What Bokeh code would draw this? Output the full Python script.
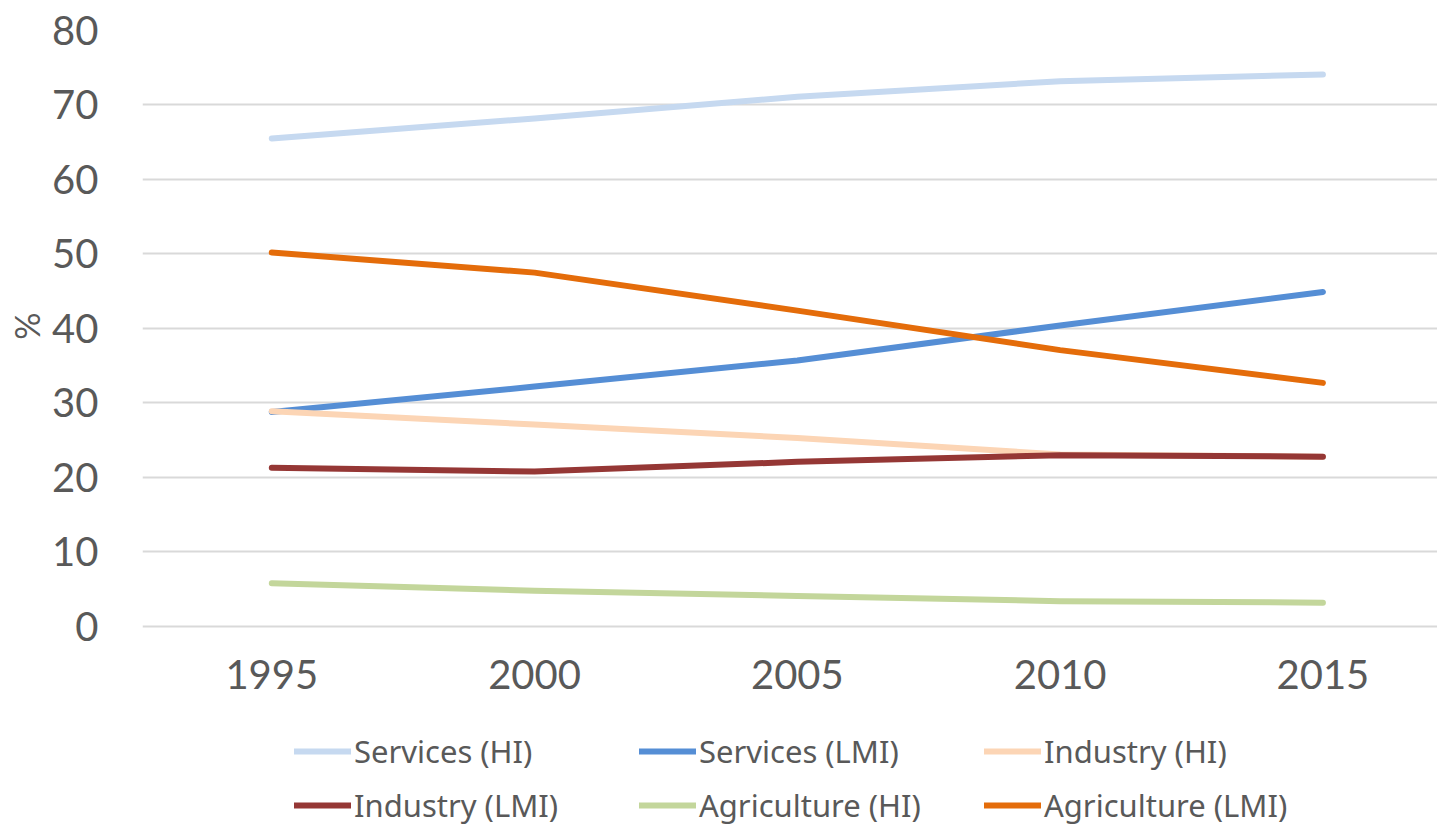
from bokeh.plotting import figure
from bokeh.models import Legend, LegendItem, FixedTicker, Range1d, Title
from bokeh.embed import file_html
from bokeh.resources import INLINE

# Share of employment by sector, high-income (HI) vs low/middle-income (LMI)
years = [1995, 2000, 2005, 2010, 2015]
services_hi = [65.5, 68.2, 71.1, 73.2, 74.1]
services_lmi = [28.8, 32.2, 35.7, 40.4, 44.9]
industry_hi = [28.9, 27.1, 25.3, 23.1, 22.8]
industry_lmi = [21.3, 20.8, 22.1, 23.0, 22.8]
agriculture_hi = [5.8, 4.8, 4.1, 3.4, 3.2]
agriculture_lmi = [50.2, 47.5, 42.4, 37.1, 32.7]
y_ticks = [0, 10, 20, 30, 40, 50, 60, 70, 80]

series = [
    ("Services (HI)", services_hi, "#C6D9F0"),
    ("Services (LMI)", services_lmi, "#558ED5"),
    ("Industry (HI)", industry_hi, "#FCD5B5"),
    ("Industry (LMI)", industry_lmi, "#953735"),
    ("Agriculture (HI)", agriculture_hi, "#C3D69B"),
    ("Agriculture (LMI)", agriculture_lmi, "#E46C0A"),
]

TEXT = "#595959"
GRID = "#D9D9D9"

# The frame runs to the bottom of the canvas; the space under 0 holds the
# year labels and the legend.
p = figure(width=1437, height=827, output_backend="svg", toolbar_location=None,
           x_range=Range1d(1992.54, 2017.18), y_range=Range1d(-26.98, 80),
           min_border_left=135, min_border_right=0, min_border_top=30,
           min_border_bottom=0, outline_line_color=None)

renderers = []
for name, vals, col in series:
    r = p.line(years, vals, line_color=col, line_width=6, line_cap="round", line_join="round")
    renderers.append((name, r))

p.xgrid.grid_line_color = None
p.ygrid.grid_line_color = GRID
p.ygrid.grid_line_width = 2

p.xaxis.ticker = FixedTicker(ticks=years)
p.yaxis.ticker = FixedTicker(ticks=y_ticks)
p.xaxis.fixed_location = 0
for ax in (p.xaxis[0], p.yaxis[0]):
    ax.axis_line_color = None
    ax.major_tick_line_color = None
    ax.minor_tick_line_color = None
    ax.major_label_text_color = TEXT
    ax.major_label_text_font = "Lato"
    ax.major_label_text_font_size = "40px"
p.xaxis.major_label_standoff = 28
p.yaxis.major_label_standoff = 38

# "%" sits beside the 0-80 band of the value axis
p.add_layout(Title(text="%", align="right", offset=282, text_font="Lato",
                   text_font_style="normal", text_font_size="34px",
                   text_color=TEXT, standoff=6), "left")

rows = [renderers[:3], renderers[3:]]
row_offsets = [55, 1]
for items, yoff in zip(rows, row_offsets):
    lg = Legend(items=[LegendItem(label=n, renderers=[r]) for n, r in items],
                orientation="horizontal", location=(152, yoff),
                glyph_width=57, glyph_height=20, label_standoff=3,
                label_width=285, label_height=40, spacing=0,
                label_text_font="Noto Sans", label_text_font_size="31px",
                label_text_color=TEXT, border_line_color=None,
                background_fill_alpha=0, padding=0, margin=0)
    p.add_layout(lg, "center")

open("out.html", "w").write(file_html(p, INLINE))
